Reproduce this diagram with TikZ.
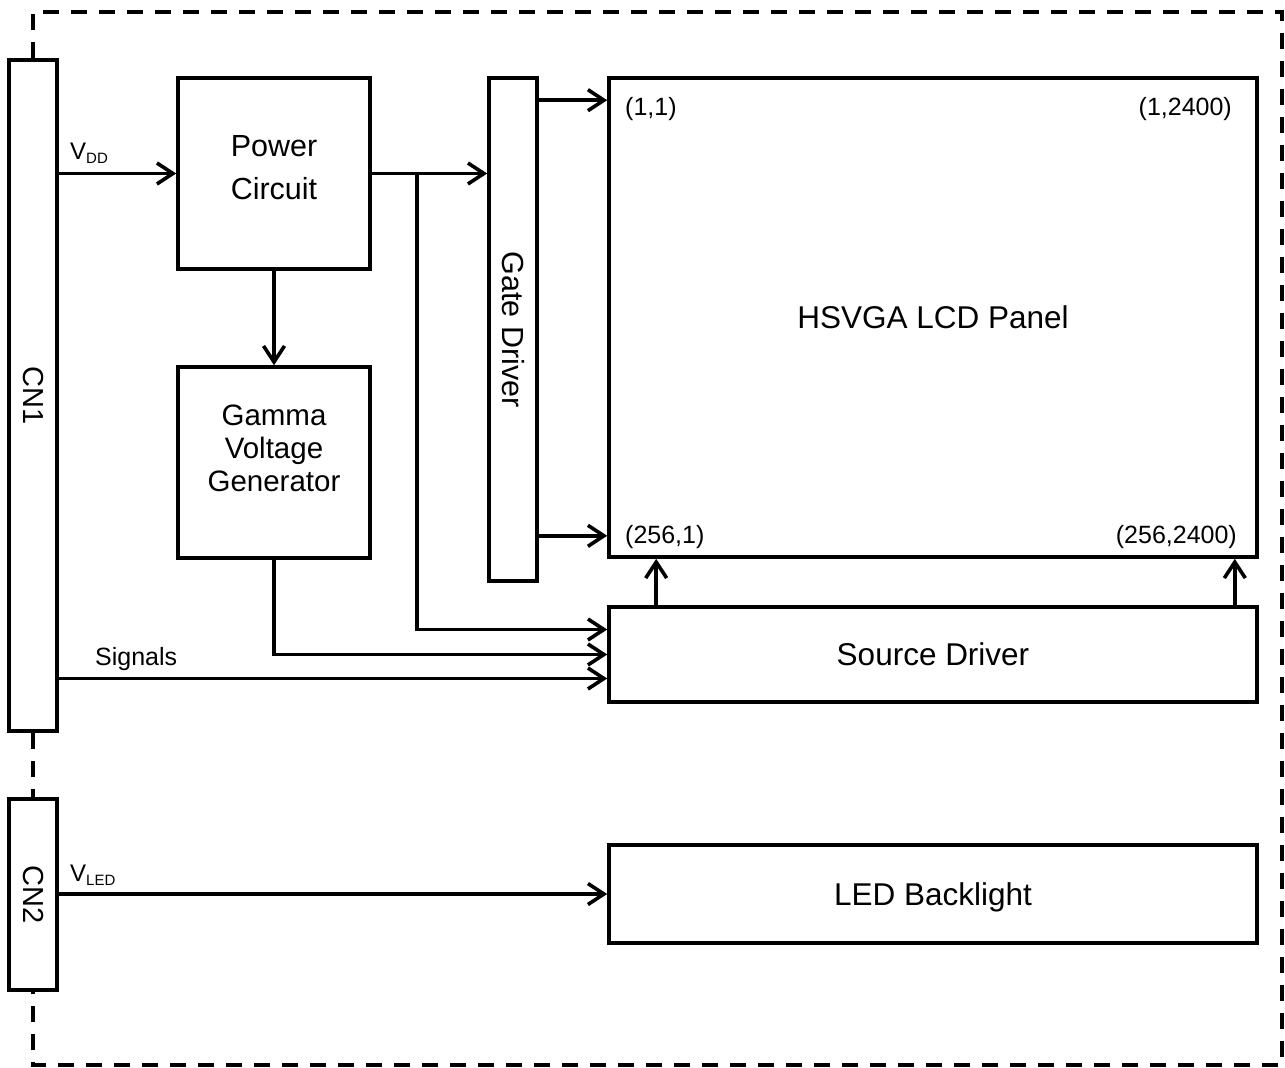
\documentclass[tikz,border=0pt]{standalone}
\usepackage{fontspec}
\setmainfont{Liberation Sans}
\usetikzlibrary{arrows.meta,calc}
\begin{document}
\begin{tikzpicture}[x=1pt,y=-1pt,
  blk/.style={draw, line width=3.6pt, inner sep=0pt},
  arr/.style={line width=3.6pt, -{Straight Barb[length=16pt,width=21pt]}},
  bord/.style={line width=4pt, dash pattern=on 16pt off 12pt},
  big/.style={font=\fontsize{30.5}{43}\selectfont},
  bigr/.style={font=\fontsize{31.5}{38}\selectfont},
  cnf/.style={font=\fontsize{29}{34}\selectfont},
  small/.style={font=\fontsize{25}{30}\selectfont}]
\useasboundingbox (0,0) rectangle (1285,1068);

% blocks
\node[blk, minimum width=48pt, minimum height=671pt] (cn1) at (33,395.5) {};
\node[blk, minimum width=48pt, minimum height=191pt] (cn2) at (33,894.5) {};
\node[blk, minimum width=192pt, minimum height=191pt] (power) at (274,173.5) {};
\node[blk, minimum width=192pt, minimum height=191pt] (gamma) at (274,462.5) {};
\node[blk, minimum width=48pt, minimum height=503pt] (gate) at (513,329.5) {};
\node[blk, bigr, minimum width=648pt, minimum height=479pt] (lcd) at (933,317.5) {HSVGA LCD Panel};
\node[blk, bigr, minimum width=648pt, minimum height=95pt] (source) at (933,654.5) {Source Driver};
\node[blk, bigr, text depth=0pt, minimum width=648pt, minimum height=98pt] (led) at (933,894) {LED Backlight};

% block texts
\node[cnf, rotate=-90] (cn1t) at (cn1.center) {CN1};
\node[cnf, rotate=-90] (cn2t) at (cn2.center) {CN2};
\node[big, rotate=-90] (gatet) at (gate.center) {Gate Driver};
\node[big, align=center, anchor=north, inner sep=0pt] (powert) at (274,135) {Power\\Circuit};
\node[font=\fontsize{29.5}{33}\selectfont, align=center, anchor=north, inner sep=0pt] (gammat) at (274,405) {Gamma\\Voltage\\Generator};

% corner labels
\node[small, anchor=base west, inner sep=0pt] (c11) at (625,115) {(1,1)};
\node[small, anchor=base east, inner sep=0pt] (c12) at (1232,115) {(1,2400)};
\node[small, anchor=base west, inner sep=0pt] (c21) at (625,543) {(256,1)};
\node[small, anchor=base east, inner sep=0pt] (c22) at (1237,543) {(256,2400)};

% signal labels
\node[anchor=base west, inner sep=0pt, font=\fontsize{24}{28}\selectfont] (vdd) at (70,159) {V\raisebox{-4pt}{\fontsize{15}{15}\selectfont DD}};
\node[anchor=base west, inner sep=0pt, font=\fontsize{24}{28}\selectfont] (vled) at (70,881) {V\raisebox{-4pt}{\fontsize{15}{15}\selectfont LED}};
\node[small, anchor=base west, inner sep=0pt] (sig) at (95,665) {Signals};

% dashed border
\coordinate (tl) at (33,12);
\coordinate (tr) at (1282,12);
\coordinate (brc) at (1282,1065);
\coordinate (bl) at (33,1065);
\draw[bord] (cn1.north) -- (tl) -- (tr) -- (brc) -- (bl) -- (cn2.south);
\draw[bord] (cn1.south) -- (cn2.north);

% connectors
\draw[arr] (cn1.east |- power.west) -- (power.west);
\draw[arr] (power.east) -- (power.east -| gate.west);
\draw[arr] (power.south) -- (gamma.north);
\coordinate (br1) at (417,173.5);
\coordinate (s1) at ($(source.west)+(0,-25)$);
\coordinate (s3) at ($(source.west)+(0,24)$);
\draw[arr] (br1) |- (s1);
\draw[arr] (gamma.south) |- (source.west);
\draw[arr] (cn1.east |- s3) -- (s3);
\coordinate (l1) at ($(lcd.north west)+(0,24)$);
\coordinate (l2) at ($(lcd.south west)+(0,-23)$);
\draw[arr] (gate.east |- l1) -- (l1);
\draw[arr] (gate.east |- l2) -- (l2);
\coordinate (d1) at ($(source.north west)+(49,0)$);
\coordinate (d2) at ($(source.north east)+(-24,0)$);
\draw[arr] (d1) -- (d1 |- lcd.south);
\draw[arr] (d2) -- (d2 |- lcd.south);
\draw[arr] (cn2.east |- led.west) -- (led.west);
\end{tikzpicture}
\end{document}
